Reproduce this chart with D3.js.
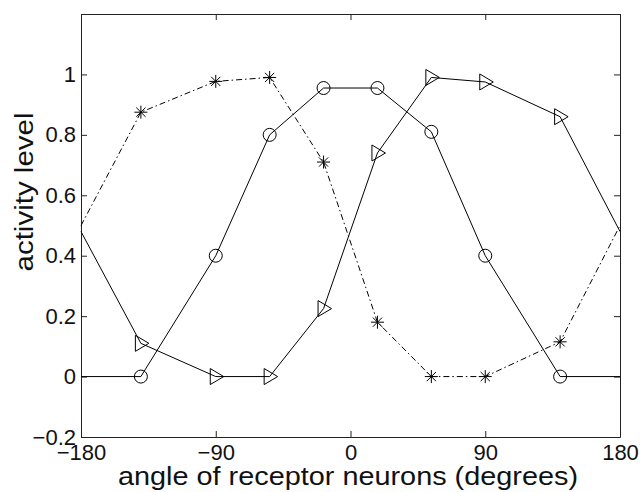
<!DOCTYPE html>
<html>
<head>
<meta charset="utf-8">
<script src="https://cdn.jsdelivr.net/npm/d3@7"></script>
<style>
  body { margin: 0; background: #fff; }
  svg { display: block; font-family: "Liberation Sans", Arial, Helvetica, sans-serif; }
</style>
</head>
<body>
<div class="chart"></div>
<script>
// receptor angles (degrees) and the three activity curves
var angles = [-180, -140, -90, -54, -18, 18, 54, 90, 140, 180];
var circleVals = [0, 0, 0.40, 0.80, 0.955, 0.955, 0.81, 0.40, 0, 0];
var triangleVals = [0.48, 0.11, 0, 0, 0.225, 0.74, 0.99, 0.975, 0.86, 0.48];
var starVals = [0.50, 0.875, 0.977, 0.99, 0.71, 0.18, 0, 0, 0.115, 0.50];

var xTicks = [-180, -90, 0, 90, 180];
var yTicks = [-0.2, 0, 0.2, 0.4, 0.6, 0.8, 1];

var width = 641, height = 492;
var margin = { top: 14, right: 21, bottom: 55, left: 81 };

var svg = d3.select(".chart")
    .append("svg")
    .attr("width", width)
    .attr("height", height);

var x = d3.scaleLinear()
    .domain([-180, 180])
    .range([margin.left, width - margin.right]);

var y = d3.scaleLinear()
    .domain([-0.2, 1.2])
    .range([height - margin.bottom, margin.top]);

var fmt = d3.format("~g");

// axes, ticks pointing inwards like matlab
function styleAxis(g) {
    g.selectAll("path").attr("stroke", "#222");
    g.selectAll("line").attr("stroke", "#222");
    g.selectAll("text").attr("fill", "#111").style("font-size", "22px");
}

svg.append("g")
    .attr("transform", "translate(0," + (height - margin.bottom) + ")")
    .call(d3.axisBottom(x).tickValues(xTicks).tickFormat(fmt).tickSizeInner(-6).tickSizeOuter(0).tickPadding(7))
    .call(styleAxis);

svg.append("g")
    .attr("transform", "translate(0," + margin.top + ")")
    .call(d3.axisTop(x).tickValues(xTicks).tickSizeInner(-6).tickSizeOuter(0).tickFormat(""))
    .call(styleAxis);

svg.append("g")
    .attr("transform", "translate(" + margin.left + ",0)")
    .call(d3.axisLeft(y).tickValues(yTicks).tickFormat(fmt).tickSizeInner(-6).tickSizeOuter(0).tickPadding(5))
    .call(styleAxis);

svg.append("g")
    .attr("transform", "translate(" + (width - margin.right) + ",0)")
    .call(d3.axisRight(y).tickValues(yTicks).tickSizeInner(-6).tickSizeOuter(0).tickFormat(""))
    .call(styleAxis);

// the curves
var series = [
    { vals: circleVals, marker: "circle", dash: null },
    { vals: triangleVals, marker: "triangle", dash: null },
    { vals: starVals, marker: "star", dash: "6,3,1.5,3" }
];

var line = d3.line()
    .x(function (d) { return x(d.a); })
    .y(function (d) { return y(d.v); });

series.forEach(function (s) {
    var pts = angles.map(function (a, i) { return { a: a, v: s.vals[i] }; });

    svg.append("path")
        .datum(pts)
        .attr("fill", "none")
        .attr("stroke", "#000")
        .attr("stroke-width", 1)
        .attr("stroke-dasharray", s.dash)
        .attr("d", line);

    // no markers on the wrap-around end points
    var inner = pts.slice(1, pts.length - 1);
    var m = svg.append("g").selectAll("path")
        .data(inner)
        .enter().append("path")
        .attr("transform", function (d) { return "translate(" + x(d.a) + "," + y(d.v) + ")"; })
        .attr("fill", "none")
        .attr("stroke", "#000")
        .attr("stroke-width", 1);

    if (s.marker == "circle") {
        m.attr("d", "M6.5,0A6.5,6.5 0 1,1 -6.5,0A6.5,6.5 0 1,1 6.5,0Z");
    } else if (s.marker == "triangle") {
        m.attr("d", "M-5.5,-8L8,0L-5.5,8Z");
    } else {
        m.attr("d", "M0,-6.5V6.5M-6.5,0H6.5M-4.6,-4.6L4.6,4.6M-4.6,4.6L4.6,-4.6");
    }
});

// axis titles
svg.append("text")
    .attr("x", 348)
    .attr("y", 485)
    .attr("text-anchor", "middle")
    .attr("textLength", 460)
    .attr("lengthAdjust", "spacingAndGlyphs")
    .style("font-size", "25px")
    .attr("fill", "#111")
    .text("angle of receptor neurons (degrees)");

svg.append("text")
    .attr("transform", "translate(33,192) rotate(-90)")
    .attr("text-anchor", "middle")
    .attr("textLength", 159)
    .attr("lengthAdjust", "spacingAndGlyphs")
    .style("font-size", "26px")
    .attr("fill", "#111")
    .text("activity level");
</script>
</body>
</html>
